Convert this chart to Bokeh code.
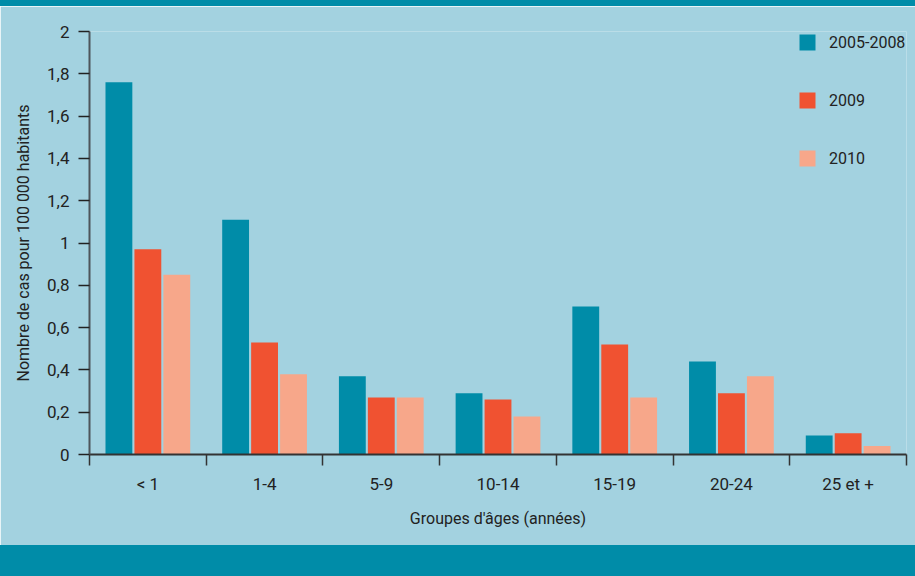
from bokeh.plotting import figure
from bokeh.models import (Range1d, LinearAxis, FixedTicker, CustomJSTickFormatter,
                          ColumnDataSource, Legend, LegendItem, Div)
from bokeh.layouts import column
from bokeh.embed import file_html
from bokeh.resources import INLINE

# Cases per 100 000 inhabitants, by age group
age_groups = ["< 1", "1-4", "5-9", "10-14", "15-19", "20-24", "25 et +"]
series_names = ["2005-2008", "2009", "2010"]
rate_2005_2008 = [1.76, 1.11, 0.37, 0.29, 0.70, 0.44, 0.09]
rate_2009 = [0.97, 0.53, 0.27, 0.26, 0.52, 0.29, 0.10]
rate_2010 = [0.85, 0.38, 0.27, 0.18, 0.27, 0.37, 0.04]
y_ticks = [i / 5 for i in range(11)]

TEAL = "#008ca8"
RED = "#f05231"
SALMON = "#f7a78a"
BG = "#a3d2e0"
INK = "#222222"
FONT = "Roboto"

p = figure(width=915, height=539, x_range=Range1d(0, 7), y_range=Range1d(0, 2),
           x_axis_type=None, y_axis_type=None,
           toolbar_location=None, output_backend="svg",
           min_border_left=89, min_border_right=9,
           min_border_top=25, min_border_bottom=91)
p.background_fill_color = BG
p.border_fill_color = BG
p.outline_line_color = None
p.xgrid.visible = False
p.ygrid.visible = False

bar_width = 0.23
offsets = [-0.248, 0.0, 0.248]
colors = [TEAL, RED, SALMON]
series = [rate_2005_2008, rate_2009, rate_2010]

items = []
for name, values, off, col in zip(series_names, series, offsets, colors):
    src = ColumnDataSource(dict(x=[i + 0.5 + off for i in range(len(age_groups))],
                                top=values))
    r = p.vbar(x="x", top="top", bottom=0, width=bar_width, source=src,
               fill_color=col, line_color=None)
    items.append(LegendItem(label=name, renderers=[r]))

# Y axis with comma decimals
yaxis = LinearAxis(ticker=FixedTicker(ticks=y_ticks, minor_ticks=[]),
                   formatter=CustomJSTickFormatter(
                       code="return (Math.round(tick*10)/10).toString().replace('.', ',')"),
                   axis_label="Nombre de cas pour 100 000 habitants")
yaxis.axis_line_color = "#4d555b"
yaxis.axis_line_width = 2
yaxis.major_tick_out = 11
yaxis.major_tick_in = 0
yaxis.major_tick_line_color = INK
yaxis.major_tick_line_width = 1.5
yaxis.major_label_standoff = 9
yaxis.major_label_text_font = FONT
yaxis.major_label_text_font_size = "17px"
yaxis.major_label_text_color = INK
yaxis.axis_label_text_font = FONT
yaxis.axis_label_text_font_size = "16px"
yaxis.axis_label_text_font_style = "normal"
yaxis.axis_label_text_color = INK
yaxis.axis_label_standoff = 11
p.add_layout(yaxis, "left")

# X axis: labels at group centres, tick marks at group boundaries
xaxis = LinearAxis(ticker=FixedTicker(ticks=[i + 0.5 for i in range(len(age_groups))],
                                      minor_ticks=list(range(len(age_groups) + 1))),
                   formatter=CustomJSTickFormatter(args=dict(labels=age_groups),
                                                   code="return labels[Math.floor(tick)]"),
                   axis_label="Groupes d'âges (années)")
xaxis.axis_line_color = "#333333"
xaxis.axis_line_width = 2
xaxis.major_tick_out = 0
xaxis.major_tick_in = 0
xaxis.minor_tick_out = 11
xaxis.minor_tick_in = 0
xaxis.minor_tick_line_color = "#333333"
xaxis.minor_tick_line_width = 1.5
xaxis.major_label_standoff = 8
xaxis.major_label_text_font = FONT
xaxis.major_label_text_font_size = "17px"
xaxis.major_label_text_color = INK
xaxis.axis_label_text_font = FONT
xaxis.axis_label_text_font_size = "16px"
xaxis.axis_label_text_font_style = "normal"
xaxis.axis_label_text_color = INK
xaxis.axis_label_standoff = 12
p.add_layout(xaxis, "below")

legend = Legend(items=items, location=(708, 286), orientation="vertical",
                glyph_width=20, glyph_height=20, label_height=20,
                spacing=38, label_standoff=12, padding=0, margin=0,
                border_line_color=None, background_fill_alpha=0,
                label_text_font=FONT, label_text_font_size="16px",
                label_text_color=INK)
p.add_layout(legend, "center")

top_band = Div(width=915, height=6, margin=0, styles={"background-color": TEAL})
bottom_band = Div(width=915, height=31, margin=0, styles={"background-color": TEAL})

layout = column(top_band, p, bottom_band, spacing=0, margin=0)

open("out.html", "w").write(file_html(layout, INLINE))
